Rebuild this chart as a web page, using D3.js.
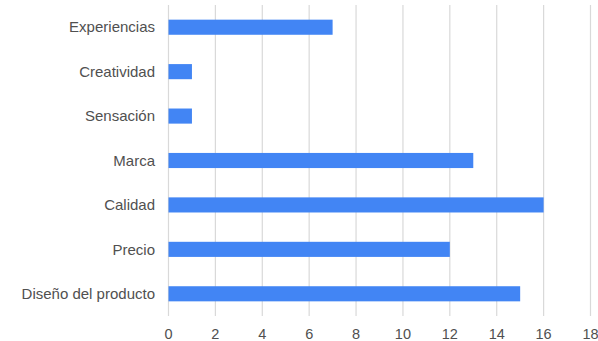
<!DOCTYPE html>
<html><head><meta charset="utf-8">
<script src="https://cdn.jsdelivr.net/npm/d3@7"></script>
<style>body{margin:0;background:#fff}svg text{font-family:"Liberation Sans",Arial,sans-serif}</style>
</head><body><svg id="c" width="598" height="341"></svg>
<script>
const categories = ["Experiencias","Creatividad","Sensación","Marca","Calidad","Precio","Diseño del producto"];
const values = [7,1,1,13,16,12,15];
const ticks = [0,2,4,6,8,10,12,14,16,18];

const svg = d3.select("#c");
const x = d3.scaleLinear().domain([0,18]).range([168.5,590.5]);
const y = d3.scaleBand().domain(categories).range([5,316]).paddingInner(0.66).paddingOuter(0.33);

svg.append("g").selectAll("line").data(ticks).join("line")
  .attr("x1",d=>x(d)).attr("x2",d=>x(d)).attr("y1",5).attr("y2",316)
  .attr("stroke","#d9d9d9").attr("stroke-width",1.2);

svg.append("g").selectAll("rect").data(values).join("rect")
  .attr("x",x(0)).attr("y",(d,i)=>y(categories[i]))
  .attr("width",d=>x(d)-x(0)).attr("height",y.bandwidth())
  .attr("fill","#4285f4");

svg.append("g").selectAll("text").data(categories).join("text")
  .attr("x",155).attr("y",d=>y(d)+y.bandwidth()/2).attr("dy","0.35em")
  .attr("text-anchor","end").attr("font-size",15).attr("fill","#505050").text(d=>d);

svg.append("g").selectAll("text").data(ticks).join("text")
  .attr("x",d=>x(d)).attr("y",333.5).attr("dy","0.35em")
  .attr("text-anchor","middle").attr("font-size",14.5).attr("fill","#505050").text(d=>d);
</script></body></html>
